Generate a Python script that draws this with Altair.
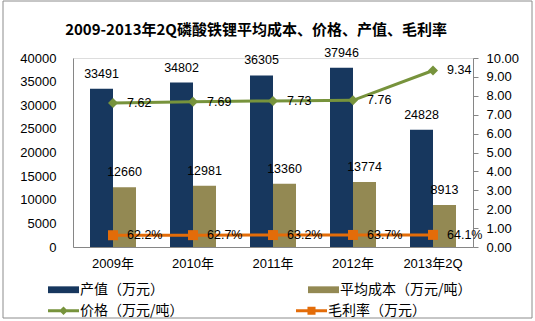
import altair as alt
import pandas as pd

years = ["2009年", "2010年", "2011年", "2012年", "2013年2Q"]
output_value = [33491, 34802, 36305, 37946, 24828]
avg_cost = [12660, 12981, 13360, 13774, 8913]
price = [7.62, 7.69, 7.73, 7.76, 9.34]
margin = [0.622, 0.627, 0.632, 0.637, 0.641]

S_OUT = "产值（万元）"
S_COST = "平均成本（万元/吨）"
S_PRICE = "价格（万元/吨）"
S_MARGIN = "毛利率（万元）"
bar_series = [S_OUT, S_COST]
bar_colors = ["#17375E", "#938953"]
line_series = [S_PRICE, S_MARGIN]
line_colors = ["#77933C", "#E36C09"]

FONT = "Liberation Sans, Noto Sans CJK SC"
CJK = "Noto Sans CJK SC"

bar_df = pd.DataFrame(
    {
        "year": years * 2,
        "series": [S_OUT] * len(years) + [S_COST] * len(years),
        "value": output_value + avg_cost,
    }
)
bar_df["label"] = bar_df["value"].map(lambda v: f"{v}")

line_df = pd.DataFrame(
    {
        "year": years * 2,
        "series": [S_PRICE] * len(years) + [S_MARGIN] * len(years),
        "value": price + margin,
    }
)
line_df["label"] = [f"{v:.2f}" for v in price] + [f"{v * 100:.1f}%" for v in margin]

# legend symbol glyphs (line with marker), in Vega's [-1, 1] symbol space
legend_glyphs = [
    "M-1,-0.09H1V0.09H-1Z M0,-0.28L0.28,0L0,0.28L-0.28,0Z",
    "M-1,-0.09H1V0.09H-1Z M-0.26,-0.26H0.26V0.26H-0.26Z",
]

common_legend = dict(
    title=None,
    orient="none",
    direction="horizontal",
    columns=2,
    symbolSize=961,
    symbolOpacity=1,
    symbolStrokeWidth=0,
    labelFont=CJK,
    labelFontSize=14,
    labelColor="#000000",
    labelOffset=1,
    padding=0,
)

bar_legend = alt.Legend(
    legendX=-25,
    legendY=216,
    columnPadding=144,
    symbolType="M-1,-0.22H1V0.22H-1Z",
    **common_legend,
)
line_legend = alt.Legend(
    legendX=-25,
    legendY=237,
    columnPadding=112,
    **common_legend,
)

x_enc = alt.X(
    "year:N",
    sort=years,
    scale=alt.Scale(paddingInner=0.425, paddingOuter=0.2125),
    axis=alt.Axis(
        title=None,
        labelAngle=0,
        ticks=False,
        labelPadding=10,
        domainColor="#868686",
        labelFont=FONT,
        labelFontSize=13,
        labelColor="#000000",
    ),
)

y_left = alt.Y(
    "value:Q",
    scale=alt.Scale(domain=[0, 40000]),
    axis=alt.Axis(
        title=None,
        format="d",
        values=list(range(0, 40001, 5000)),
        grid=False,
        ticks=False,
        labelPadding=17,
        domainColor="#868686",
        labelFont=FONT,
        labelFontSize=13,
        labelColor="#000000",
    ),
)

right_axis = alt.Axis(
    title=None,
    orient="right",
    format=".2f",
    values=list(range(0, 11)),
    grid=False,
    tickSize=5,
    tickColor="#868686",
    labelPadding=8,
    domainColor="#868686",
    labelFont=FONT,
    labelFontSize=13,
    labelColor="#000000",
)
y_right = alt.Y("value:Q", scale=alt.Scale(domain=[0, 10]), axis=right_axis)

border = (
    alt.Chart(pd.DataFrame({"k": [0]}))
    .mark_rect(fillOpacity=0, stroke="#8C8C8C", strokeWidth=1)
    .encode(x=alt.value(-70), x2=alt.value(459), y=alt.value(-57), y2=alt.value(260))
)

bars = (
    alt.Chart(bar_df)
    .mark_bar()
    .encode(
        x=x_enc,
        xOffset=alt.XOffset("series:N", sort=bar_series, scale=alt.Scale(paddingInner=0, paddingOuter=0)),
        y=y_left,
        color=alt.Color("series:N", sort=bar_series, scale=alt.Scale(domain=bar_series, range=bar_colors), legend=bar_legend),
    )
)

bar_text = (
    alt.Chart(bar_df)
    .mark_text(baseline="bottom", dy=-8, font=FONT, fontSize=12.5, color="#000000")
    .encode(
        x=x_enc,
        xOffset=alt.XOffset("series:N", sort=bar_series),
        y=y_left,
        text="label:N",
    )
)

left = alt.layer(border, bars, bar_text)


def series_layers(name, color, shape):
    base = alt.Chart(line_df).transform_filter(alt.datum.series == name)
    line = base.mark_line(strokeWidth=3, color=color).encode(x=x_enc, y=y_right)
    pts = base.mark_point(shape=shape, filled=True, size=100, opacity=1, color=color).encode(x=x_enc, y=y_right)
    return [line, pts]


price_layers = series_layers(S_PRICE, line_colors[0], "diamond")
margin_layers = series_layers(S_MARGIN, line_colors[1], "square")

# layer that draws nothing (its y is empty) and only carries the line-series legend
legend_carrier = (
    alt.Chart(line_df)
    .transform_calculate(hidden="null")
    .mark_point(filled=True)
    .encode(
        x=x_enc,
        y=alt.Y("hidden:Q", scale=alt.Scale(domain=[0, 10]), axis=right_axis),
        fill=alt.Fill("series:N", scale=alt.Scale(domain=line_series, range=line_colors), legend=line_legend),
        shape=alt.Shape("series:N", scale=alt.Scale(domain=line_series, range=legend_glyphs), legend=line_legend),
    )
)

line_text = (
    alt.Chart(line_df)
    .mark_text(align="left", baseline="middle", dx=14, font=FONT, fontSize=12.5, color="#000000")
    .encode(x=x_enc, y=y_right, text="label:N")
)

right = alt.layer(*margin_layers, *price_layers, legend_carrier, line_text)

chart = (
    alt.layer(left, right)
    .resolve_scale(y="independent")
    .properties(
        width=400,
        height=189,
        autosize=alt.AutoSizeParams(type="none"),
        padding={"left": 73, "right": 62, "top": 58, "bottom": 74},
        title=alt.TitleParams(
            "2009-2013年2Q磷酸铁锂平均成本、价格、产值、毛利率",
            font=CJK,
            fontSize=15,
            fontWeight="bold",
            color="#000000",
            anchor="middle",
            dx=-17,
            offset=-37,
        ),
    )
    .configure_view(stroke=None)
    .configure(background="white")
)

chart.save("out.html", embed_options={"renderer": "svg", "actions": False})
